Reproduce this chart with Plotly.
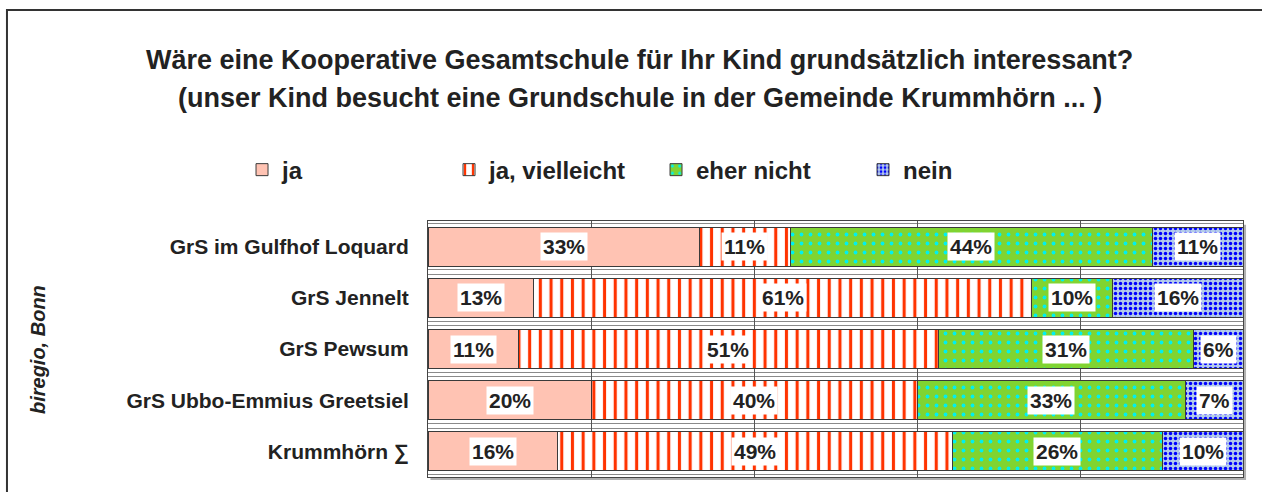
import plotly.graph_objects as go

# Survey answers per primary school (percent of respondents)
schools = [
    "GrS im Gulfhof Loquard",
    "GrS Jennelt",
    "GrS Pewsum",
    "GrS Ubbo-Emmius Greetsiel",
    "Krummhörn ∑",
]
answers = ["ja", "ja, vielleicht", "eher nicht", "nein"]
ja = [33, 13, 11, 20, 16]
ja_vielleicht = [11, 61, 51, 40, 49]
eher_nicht = [44, 10, 31, 33, 26]
nein = [11, 16, 6, 7, 10]

series = [ja, ja_vielleicht, eher_nicht, nein]

# fill styles per answer: (bgcolor, fgcolor, pattern shape, size, solidity)
styles = [
    ("#FFC3B3", "#FFC3B3", "", 8, 0.3),
    ("#FFFFFF", "#FF3300", "|", 10.7, 0.29),
    ("#80D431", "#00F0F0", ".", 9, 0.14),
    ("#B3CBEA", "#0000FF", ".", 5, 0.38),
]

FONT = "Liberation Sans, Arial, sans-serif"
TXT = "#222222"

ypos = list(range(len(schools)))

fig = go.Figure()
for name, vals, (bg, fg, shape, size, sol) in zip(answers, series, styles):
    fig.add_trace(go.Bar(
        name=name,
        x=vals,
        y=ypos,
        orientation="h",
        width=0.76,
        marker=dict(
            color=bg,
            line=dict(color="#3a3a3a", width=1),
            pattern=dict(shape=shape, bgcolor=bg, fgcolor=fg, size=size,
                         solidity=sol, fillmode="replace"),
        ),
        hoverinfo="skip",
    ))

# value labels in white boxes, centred in each normalised segment
annotations = []
for i in range(len(schools)):
    row = [s[i] for s in series]
    total = sum(row)
    cum = 0.0
    for v in row:
        share = v / total * 100
        annotations.append(dict(
            x=cum + share / 2, y=i, xref="x", yref="y",
            text=f"<b>{v}%</b>", showarrow=False,
            font=dict(family=FONT, size=21, color=TXT),
            bgcolor="white", borderpad=2,
        ))
        cum += share

# title lines
annotations.append(dict(
    x=0.26, y=1.629, xref="paper", yref="paper",
    text="<b>Wäre eine Kooperative Gesamtschule für Ihr Kind grundsätzlich interessant?</b>",
    showarrow=False, font=dict(family=FONT, size=27, color=TXT),
    xanchor="center", yanchor="middle",
))
annotations.append(dict(
    x=0.26, y=1.480, xref="paper", yref="paper",
    text="<b>(unser Kind besucht eine Grundschule in der Gemeinde Krummhörn ... )</b>",
    showarrow=False, font=dict(family=FONT, size=27, color=TXT),
    xanchor="center", yanchor="middle",
))
# source credit
annotations.append(dict(
    x=-0.4785, y=0.496, xref="paper", yref="paper",
    text="<b><i>biregio, Bonn</i></b>", textangle=-90,
    showarrow=False, font=dict(family=FONT, size=20, color=TXT),
    xanchor="center", yanchor="middle",
))

fig.update_layout(
    barmode="stack",
    barnorm="percent",
    width=1262, height=492,
    margin=dict(l=428, r=19, t=221, b=15),
    paper_bgcolor="white",
    plot_bgcolor="white",
    font=dict(family=FONT, color=TXT),
    annotations=annotations,
    legend=dict(
        orientation="h",
        x=-0.2282, xanchor="left",
        y=1.199, yanchor="middle",
        font=dict(family=FONT, size=24, color=TXT, weight="bold"),
        entrywidth=162, entrywidthmode="pixels",
        traceorder="normal",
        bgcolor="rgba(0,0,0,0)",
    ),
    shapes=[
        # outer frame (left and top edges)
        dict(type="path", xref="paper", yref="paper",
             path="M -0.5166,-0.3 L -0.5166,1.824 L 1.2,1.824",
             line=dict(color="#333333", width=2)),
        # soft drop shadow along right and bottom of the plot frame
        dict(type="path", xref="paper", yref="paper",
             path="M 1.0025,0.985 L 1.0025,-0.008 L 0.003,-0.008",
             line=dict(color="#b0b0b0", width=2)),
    ],
)

fig.update_xaxes(
    range=[0, 100], dtick=20, showgrid=True, gridcolor="#555555", gridwidth=1,
    showticklabels=False, zeroline=False, ticks="",
    showline=True, mirror=True, linecolor="#444444", linewidth=1,
    fixedrange=True,
)
fig.update_yaxes(
    range=[4.5, -0.5],
    tickmode="array", tickvals=ypos, ticktext=[f"<b>{s}</b>" for s in schools],
    tickfont=dict(family=FONT, size=21, color=TXT),
    ticks="", ticklabelstandoff=14,
    showgrid=False, zeroline=False,
    showline=True, mirror=True, linecolor="#444444", linewidth=1,
    minor=dict(
        tickmode="array",
        tickvals=[-0.455, 0.455, 0.545, 1.455, 1.545, 2.455, 2.545, 3.455, 3.545, 4.455],
        showgrid=True, gridcolor="#8a8a8a", gridwidth=1, ticks="",
    ),
    fixedrange=True,
)

fig.write_html("out.html")
